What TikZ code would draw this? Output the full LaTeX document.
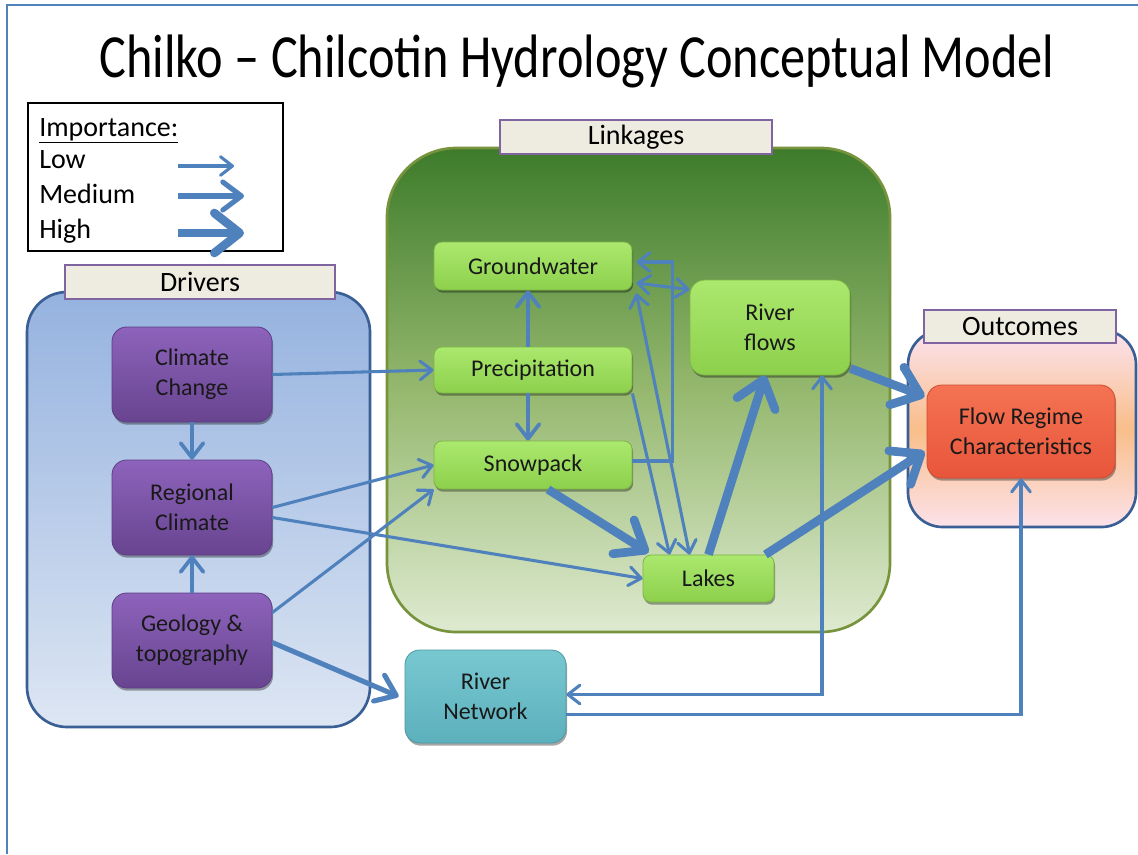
\documentclass[tikz,border=0pt]{standalone}
\usepackage{fontspec}
\setmainfont{Carlito}
\newfontfamily\titlefont[FakeStretch=0.82]{Carlito}
\usetikzlibrary{arrows.meta,calc,shadows}
\definecolor{ac}{HTML}{4F81BD}
\definecolor{frame}{HTML}{4F81BD}
\definecolor{contblue}{HTML}{3A5F94}
\definecolor{contgreen}{HTML}{77933C}
\definecolor{labfill}{HTML}{EEECE1}
\definecolor{labdraw}{HTML}{8064A2}
\definecolor{drvtop}{HTML}{95B2DF}
\definecolor{drvbot}{HTML}{DDE6F3}
\definecolor{lnktop}{HTML}{3D7B2B}
\definecolor{lnkmid}{HTML}{95B86E}
\definecolor{lnkbot}{HTML}{DEEAD0}
\definecolor{outtop}{HTML}{FBE3F0}
\definecolor{outmid}{HTML}{F9BE8A}
\definecolor{outbot}{HTML}{FCE2EA}
\definecolor{gtop}{HTML}{ABE86E}
\definecolor{gbot}{HTML}{8DD04C}
\definecolor{gdraw}{HTML}{7CB544}
\definecolor{ptop}{HTML}{8D63BB}
\definecolor{pbot}{HTML}{684490}
\definecolor{pdraw}{HTML}{5C3D85}
\definecolor{ttop}{HTML}{78C8D1}
\definecolor{tbot}{HTML}{5CB0BC}
\definecolor{tdraw}{HTML}{4C98A3}
\definecolor{rtop}{HTML}{F47352}
\definecolor{rbot}{HTML}{E8553A}
\definecolor{rdraw}{HTML}{CF4A31}
\tikzset{
  LT/.tip={Straight Barb[length=9pt,width=14pt,round]},
  PT/.tip={Straight Barb[length=11pt,width=17pt,round]},
  MT/.tip={Straight Barb[length=14pt,width=21pt,round]},
  HT/.tip={Straight Barb[length=19pt,width=30pt,round]},
  alow/.style={draw=ac, line width=2.3pt},
  amid/.style={draw=ac, line width=2.8pt},
  amed/.style={draw=ac, line width=3.8pt},
  ahigh/.style={draw=ac, line width=6.5pt},
  sz/.style 2 args={minimum width=#1*0.75pt, minimum height=#2*0.75pt, inner sep=0pt},
  nt/.style={font=\fontsize{18}{22.5}\selectfont, align=center, text=black!90},
  lt/.style={font=\fontsize{21}{25}\selectfont, text=black},
  shad/.style={drop shadow={shadow xshift=0.8pt, shadow yshift=-2pt, opacity=0.35, fill=black}},
  gnode/.style={nt, rounded corners=6pt, top color=gtop, bottom color=gbot, draw=gdraw, line width=0.6pt, shad},
  pnode/.style={nt, rounded corners=11pt, top color=ptop, bottom color=pbot, draw=pdraw, line width=0.6pt, shad},
  tnode/.style={nt, rounded corners=11pt, top color=ttop, bottom color=tbot, draw=tdraw, line width=0.6pt, shad},
  rnode/.style={nt, rounded corners=11pt, top color=rtop, bottom color=rbot, draw=rdraw, line width=0.6pt, shad},
  labbox/.style={lt, fill=labfill, draw=labdraw, line width=1pt},
}
\begin{document}
\begin{tikzpicture}[x=0.75pt,y=-0.75pt]
\useasboundingbox (0,0) rectangle (1138,854);
\fill[white] (0,0) rectangle (1138,854);
% slide frame
\draw[frame, line width=1.5pt] (7,854) -- (7,5) -- (1138,5);
% title
\node[anchor=base, font=\titlefont\fontsize{46}{50}\selectfont] (title) at (577,77) {Chilko – Chilcotin Hydrology Conceptual Model};
% legend
\node[draw=black, line width=0.8pt, sz={255}{148}] (leg) at (155.5,177) {};
\node[lt, anchor=base west, inner sep=0pt] (limp) at (39,136) {\underline{Importance:}};
\node[lt, anchor=base west, inner sep=0pt] (llow) at (39,168) {Low};
\node[lt, anchor=base west, inner sep=0pt] (lmed) at (39,203) {Medium};
\node[lt, anchor=base west, inner sep=0pt] (lhigh) at (39,238) {High};
\coordinate (l1a) at (178,166); \coordinate (l1b) at (234,166);
\coordinate (l2a) at (178,196); \coordinate (l2b) at (244,196);
\coordinate (l3a) at (178,233); \coordinate (l3b) at (244,233);
\draw[alow,-LT] (l1a) -- (l1b);
\draw[amed,-MT] (l2a) -- (l2b);
\draw[ahigh,-HT] (l3a) -- (l3b);
% containers
\node[sz={343}{435}, rounded corners=30pt, top color=drvtop, bottom color=drvbot, draw=contblue, line width=2pt] (drv) at (198.5,509.5) {};
\node[sz={503}{484}, rounded corners=52pt, top color=lnktop, bottom color=lnkbot, middle color=lnkmid, draw=contgreen, line width=2pt] (lnk) at (638.5,390) {};
\node[sz={228}{197}, rounded corners=26pt, top color=outtop, bottom color=outbot, middle color=outmid, draw=contblue, line width=2pt] (out) at (1022,428.5) {};
% container labels
\node[labbox, sz={270}{34}] (drvlab) at (200,282) {Drivers};
\node[labbox, sz={272}{34}] (lnklab) at (636,137) {Linkages};
\node[labbox, sz={192}{33}] (outlab) at (1020,326.5) {Outcomes};
% driver nodes
\node[pnode, sz={160}{95}] (cc) at (192,374.5) {Climate\\Change};
\node[pnode, sz={160}{95}] (rc) at (192,507.5) {Regional\\Climate};
\node[pnode, sz={160}{95}] (gt) at (192,640.5) {Geology \&\\topography};
% linkage nodes
\node[gnode, sz={198}{48}] (gw) at (533,266) {Groundwater};
\node[gnode, sz={198}{46}] (pr) at (533,370) {Precipitation};
\node[gnode, sz={198}{48}] (sn) at (533,465) {Snowpack};
\node[gnode, sz={131}{47}] (lk) at (708.5,578.5) {Lakes};
\node[gnode, rounded corners=11pt, sz={160}{95}] (rf) at (770,327.5) {River\\flows};
% outcome & network
\node[rnode, sz={188}{93}] (fr) at (1021,431.5) {Flow Regime\\Characteristics};
\node[tnode, sz={161}{93}] (rn) at (485.5,696.5) {River\\Network};
% connectors
\draw[alow,-LT] (cc.east) -- (pr.west);
\draw[amid,-PT] (cc.south) -- (rc.north);
\draw[amid,-PT] (gt.north) -- (rc.south);
\draw[alow,-LT] (rc.east) -- (sn.west);
\draw[alow,-LT] ($(rc.east)+(0,10)$) -- (lk.west);
\draw[alow,-LT] ($(gt.east)+(0,-28)$) -- (sn.south west);
\draw[amed,-MT] ($(gt.east)+(0,2)$) -- ($(rn.west)+(-6,0)$);
\draw[amid,-PT] ($(pr.north)+(-5,0)$) -- ($(gw.south)+(-5,0)$);
\draw[amid,-PT] ($(pr.south)+(-5,0)$) -- ($(sn.north)+(-5,0)$);
\draw[ahigh,-HT] ($(sn.south)+(15,0)$) -- ($(lk.north west)+(6,-2)$);
\draw[alow,-LT] (pr.south east) -- ($(lk.north west)+(27,0)$);
\draw[alow,-LT] ($(sn.east)+(0,-4)$) -| ($(gw.east)+(40,-4)$) -- ($(gw.east)+(4,-4)$);
\draw[alow,LT-LT] ($(gw.south east)+(4,3)$) -- ($(lk.north west)+(47,0)$);
\draw[alow,LT-LT] ($(gw.east)+(4,17)$) -- ($(rf.north west)+(0,10)$);
\draw[ahigh,-HT] (lk.north) -- ($(rf.south)+(-5,0)$);
\draw[ahigh,-HT] ($(rf.south east)+(0,-7)$) -- ($(fr.west)+(-2,-35)$);
\draw[ahigh,-HT] ($(lk.north east)+(-9,0)$) -- ($(fr.west)+(-2,20)$);
\draw[alow,LT-LT] ($(rf.south)+(52,0)$) |- ($(rn.east)+(0,-2)$);
\draw[alow,-LT] ($(rn.east)+(0,18)$) -| (fr.south);
\end{tikzpicture}
\end{document}
